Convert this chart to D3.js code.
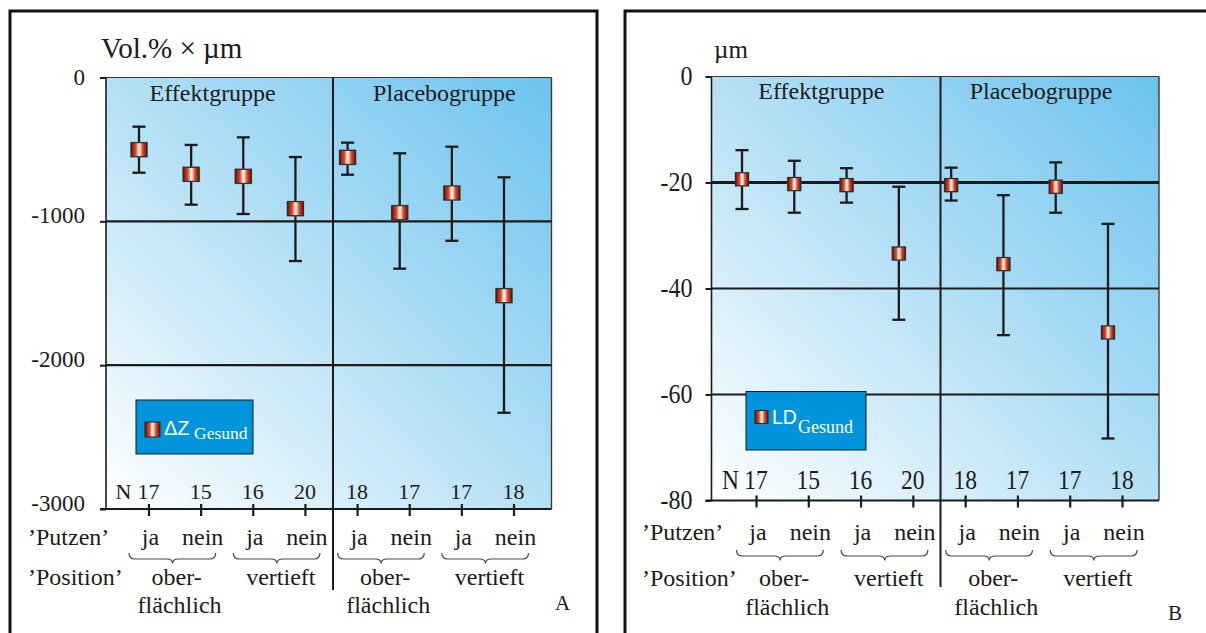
<!DOCTYPE html>
<html>
<head>
<meta charset="utf-8">
<script src="https://cdn.jsdelivr.net/npm/d3@7"></script>
<style>
  html, body { margin: 0; padding: 0; background: #ffffff; }
  svg { display: block; }
</style>
</head>
<body>
<svg id="chart" width="1206" height="633"></svg>
<script>
// ---- categories ----
const groups = ["Effektgruppe", "Placebogruppe"];
const categories = ["E-ober-ja", "E-ober-nein", "E-vert-ja", "E-vert-nein",
                    "P-ober-ja", "P-ober-nein", "P-vert-ja", "P-vert-nein"];
const putzen = ["ja", "nein", "ja", "nein", "ja", "nein", "ja", "nein"];
const positionLabels = [["ober-", "flächlich"], ["vertieft"], ["ober-", "flächlich"], ["vertieft"]];
const nCounts = [17, 15, 16, 20, 18, 17, 17, 18];

// ---- ΔZ Gesund (Vol.% × µm): mean with error bar ends ----
const dzMean = [-502, -673, -687, -912, -555, -940, -803, -1517];
const dzHigh = [-342, -469, -416, -553, -453, -527, -481, -694];
const dzLow  = [-662, -884, -949, -1276, -676, -1329, -1135, -2331];
const dzTicks = [0, -1000, -2000, -3000];

// ---- LD Gesund (µm): mean with error bar ends ----
const ldMean = [-19.4, -20.3, -20.5, -33.4, -20.5, -35.4, -20.8, -48.3];
const ldHigh = [-13.9, -15.9, -17.3, -20.8, -17.2, -22.4, -16.2, -27.8];
const ldLow  = [-25.0, -25.7, -23.8, -45.9, -23.4, -48.8, -25.7, -68.3];
const ldTicks = [0, -20, -40, -60, -80];

const SERIF = '"Liberation Serif", "Times New Roman", serif';
const SANS = '"Liberation Sans", Arial, sans-serif';
const INK = "#1d1a1a";

const svg = d3.select("#chart");
const defs = svg.append("defs");

// marker fill: red cylinder with light highlight
const mk = defs.append("linearGradient").attr("id", "markerFill")
  .attr("x1", 0).attr("y1", 0).attr("x2", 1).attr("y2", 0);
[[0, "#4a150c"], [0.14, "#a92b16"], [0.3, "#e0482c"], [0.44, "#f9c9ba"],
 [0.52, "#ffffff"], [0.6, "#f6b8a7"], [0.74, "#dc4529"], [0.88, "#a02914"], [1, "#4a150c"]]
  .forEach(([o, c]) => mk.append("stop").attr("offset", o).attr("stop-color", c));

// plot background: pale at bottom-left, blue at top-right
const bg = defs.append("linearGradient").attr("id", "plotFill")
  .attr("x1", 0).attr("y1", 1).attr("x2", 1).attr("y2", 0);
[[0, "#ffffff"], [0.5, "#b4e0f6"], [1, "#6cc3ee"]]
  .forEach(([o, c]) => bg.append("stop").attr("offset", o).attr("stop-color", c));

function label(g, x, y, str, opt = {}) {
  return g.append("text")
    .style("font-family", opt.sans ? SANS : SERIF)
    .style("font-size", (opt.size || 23) + "px")
    .attr("transform", `translate(${x},${y}) scale(1,${opt.sy || 1})`)
    .attr("fill", opt.fill || INK)
    .attr("text-anchor", opt.anchor || "start")
    .text(str);
}

function brace(g, x0, x1, xm, yTop, yMid, yBot) {
  const r = 6;
  const p = `M${x0},${yTop} Q${x0},${yMid} ${x0 + r},${yMid} L${xm - r},${yMid} ` +
            `Q${xm},${yMid} ${xm},${yBot} Q${xm},${yMid} ${xm + r},${yMid} ` +
            `L${x1 - r},${yMid} Q${x1},${yMid} ${x1},${yTop}`;
  g.append("path").attr("d", p).attr("fill", "none")
    .attr("stroke", "#4a4a4a").attr("stroke-width", 1.2);
}

function drawPanel(cfg) {
  const g = svg.append("g");
  const { x0, x1, y0, y1 } = cfg.plot;

  // outer frame
  g.append("rect").attr("x", cfg.frame[0]).attr("y", cfg.frame[1])
    .attr("width", cfg.frame[2]).attr("height", cfg.frame[3])
    .attr("fill", "none").attr("stroke", "#111").attr("stroke-width", 3);

  const y = d3.scaleLinear().domain(cfg.domain).range([y0, y1]);
  const x = d3.scalePoint().domain(categories).range(cfg.barRange);
  const xt = d3.scalePoint().domain(categories)
    .range(cfg.barRange.map(v => v + cfg.tickOffset));

  // background
  g.append("rect").attr("x", x0).attr("y", y0)
    .attr("width", x1 - x0).attr("height", y1 - y0).attr("fill", "url(#plotFill)");

  // plot borders
  g.append("line").attr("x1", x0).attr("x2", x1).attr("y1", y0).attr("y2", y0)
    .attr("stroke", "#3a3a3a").attr("stroke-width", 1.2);
  g.append("line").attr("x1", x1).attr("x2", x1).attr("y1", y0).attr("y2", y1)
    .attr("stroke", "#3a3a3a").attr("stroke-width", 1.4);
  g.append("line").attr("x1", x0).attr("x2", x0).attr("y1", y0).attr("y2", y1)
    .attr("stroke", INK).attr("stroke-width", 1.6);

  // horizontal grid lines
  cfg.ticks.filter(v => v !== cfg.domain[0] && v !== cfg.domain[1]).forEach(v => {
    g.append("line").attr("x1", x0).attr("x2", x1)
      .attr("y1", y(v)).attr("y2", y(v))
      .attr("stroke", INK).attr("stroke-width", v === cfg.heavyLine ? 3 : 2.2);
  });
  // bottom axis line
  g.append("line").attr("x1", x0 - 6).attr("x2", x1).attr("y1", y1).attr("y2", y1)
    .attr("stroke", INK).attr("stroke-width", 2.2);

  // y axis ticks
  const ya = g.append("g").attr("transform", `translate(${x0},0)`)
    .call(d3.axisLeft(y).tickValues(cfg.ticks).tickSize(6).tickFormat(""));
  ya.select(".domain").remove();
  ya.selectAll(".tick line").attr("stroke", INK).attr("stroke-width", 2);

  // y tick labels (plain hyphen as minus sign)
  cfg.ticks.forEach(v => {
    label(g, x0 - cfg.labelGap, y(v) + cfg.labelDy(v), String(v),
      { anchor: "end", size: cfg.tickSize, sy: cfg.sy });
  });

  // x axis ticks
  const xa = g.append("g").attr("transform", `translate(0,${y1 - 5})`)
    .call(d3.axisBottom(xt).tickSize(12).tickFormat(""));
  xa.select(".domain").remove();
  xa.selectAll(".tick line").attr("stroke", INK).attr("stroke-width", 2.2);

  // group divider
  g.append("line").attr("x1", cfg.divider).attr("x2", cfg.divider)
    .attr("y1", y0).attr("y2", cfg.dividerEnd)
    .attr("stroke", INK).attr("stroke-width", 2);

  // group titles
  const bounds = [[x0, cfg.divider], [cfg.divider, x1]];
  groups.forEach((name, i) => {
    const [a, b] = bounds[i];
    label(g, a + (b - a) * cfg.groupPos[i], cfg.groupY, name,
      { anchor: "middle", size: 24 });
  });

  // unit
  label(g, cfg.unitX, cfg.unitY, cfg.unit, { size: cfg.unitSize });

  // error bars
  const capW = 13;
  categories.forEach((c, i) => {
    const cx = x(c);
    g.append("line").attr("x1", cx).attr("x2", cx)
      .attr("y1", y(cfg.high[i])).attr("y2", y(cfg.low[i]))
      .attr("stroke", INK).attr("stroke-width", 2.3);
    [cfg.high[i], cfg.low[i]].forEach(v => {
      g.append("line").attr("x1", cx - capW / 2).attr("x2", cx + capW / 2)
        .attr("y1", y(v)).attr("y2", y(v))
        .attr("stroke", INK).attr("stroke-width", 2.3);
    });
  });

  // mean markers
  const [mw, mh] = cfg.markerSize;
  categories.forEach((c, i) => {
    const cx = x(c), cy = y(cfg.mean[i]);
    g.append("rect").attr("x", cx - mw / 2 - 1).attr("y", cy - mh / 2 - 1)
      .attr("width", mw + 2).attr("height", mh + 2)
      .attr("fill", "#5d7284").attr("opacity", 0.45);
    g.append("rect").attr("x", cx - mw / 2).attr("y", cy - mh / 2)
      .attr("width", mw).attr("height", mh)
      .attr("fill", "url(#markerFill)").attr("stroke", "#2a2a2a").attr("stroke-width", 1.1);
  });

  // legend
  const L = cfg.legend;
  g.append("rect").attr("x", L.x).attr("y", L.y).attr("width", L.w).attr("height", L.h)
    .attr("fill", "#0094dc").attr("stroke", "#1a1a1a").attr("stroke-width", 1);
  g.append("rect").attr("x", L.mx).attr("y", L.my).attr("width", L.ms).attr("height", L.ms)
    .attr("fill", "url(#markerFill)").attr("stroke", "#2a2a2a").attr("stroke-width", 1.1);
  label(g, L.tx, L.ty, L.main, { sans: true, size: L.mainSize, fill: "#ffffff" });
  label(g, L.sx, L.sy, "Gesund", { size: L.subSize, fill: "#ffffff" });

  // N row
  label(g, xt(categories[0]) - 17, cfg.nY, "N", { anchor: "end", size: cfg.nSize, sy: cfg.sy });
  categories.forEach((c, i) => {
    label(g, xt(c), cfg.nY, String(nCounts[i]), { anchor: "middle", size: cfg.nSize, sy: cfg.sy });
  });

  // 'Putzen' row
  label(g, cfg.rowX, cfg.putzY, "\u2019Putzen\u2019", { size: 24 });
  categories.forEach((c, i) => {
    label(g, xt(c) + 2, cfg.putzY, putzen[i], { anchor: "middle", size: 24 });
  });

  // braces + 'Position' row
  label(g, cfg.rowX, cfg.posY, "\u2019Position\u2019", { size: 24 });
  for (let k = 0; k < 4; k++) {
    const a = xt(categories[2 * k]), b = xt(categories[2 * k + 1]);
    const m = (a + b) / 2;
    brace(g, a - 19.5, b + 15, m - 2, cfg.braceY[0], cfg.braceY[1], cfg.braceY[2]);
    positionLabels[k].forEach((line, j) => {
      label(g, m + 2 + (j === 1 ? 3 : 0), j === 0 ? cfg.posY : cfg.pos2Y, line,
        { anchor: "middle", size: 24 });
    });
  }

  // panel letter
  label(g, cfg.letter[0], cfg.letter[1], cfg.letter[2], { size: 21 });
}

drawPanel({
  frame: [10, 11, 587, 640],
  plot: { x0: 106, x1: 551.5, y0: 77.5, y1: 509 },
  domain: [0, -3000], ticks: dzTicks,
  mean: dzMean, high: dzHigh, low: dzLow,
  barRange: [139, 504], tickOffset: 9.5,
  divider: 333, dividerEnd: 590,
  groupPos: [0.47, 0.51], groupY: 101,
  unit: "Vol.% \u00d7 \u00b5m", unitX: 101, unitY: 58, unitSize: 29,
  tickSize: 23, labelGap: 21, sy: 1,
  labelDy: v => (v === 0 ? 7 : 2),
  heavyLine: null,
  markerSize: [16, 14],
  legend: { x: 136, y: 400, w: 117, h: 54, mx: 145, my: 422, ms: 15,
            main: "\u0394Z", tx: 164, ty: 435, mainSize: 20,
            sx: 194, sy: 438.5, subSize: 17.5 },
  nY: 498.5, nSize: 22,
  rowX: 28, putzY: 544.5, posY: 585, pos2Y: 613,
  braceY: [553, 559, 563.5],
  letter: [555, 610, "A"]
});

drawPanel({
  frame: [625, 11, 600, 640],
  plot: { x0: 711.5, x1: 1159, y0: 76.5, y1: 500.5 },
  domain: [0, -80], ticks: ldTicks,
  mean: ldMean, high: ldHigh, low: ldLow,
  barRange: [742, 1108], tickOffset: 14,
  divider: 940.5, dividerEnd: 587,
  groupPos: [0.48, 0.46], groupY: 99,
  unit: "\u00b5m", unitX: 714, unitY: 58, unitSize: 25,
  tickSize: 24, labelGap: 19, sy: 1.12,
  labelDy: () => 8.5,
  heavyLine: -20,
  markerSize: [13, 13],
  legend: { x: 746, y: 391.5, w: 120, h: 58.5, mx: 755, my: 410.5, ms: 13,
            main: "LD", tx: 772, ty: 423.5, mainSize: 19.5,
            sx: 798, sy: 432.5, subSize: 18 },
  nY: 488.5, nSize: 23.5,
  rowX: 642, putzY: 540, posY: 586, pos2Y: 615,
  braceY: [550, 556, 560.5],
  letter: [1168, 620, "B"]
});
</script>
</body>
</html>
